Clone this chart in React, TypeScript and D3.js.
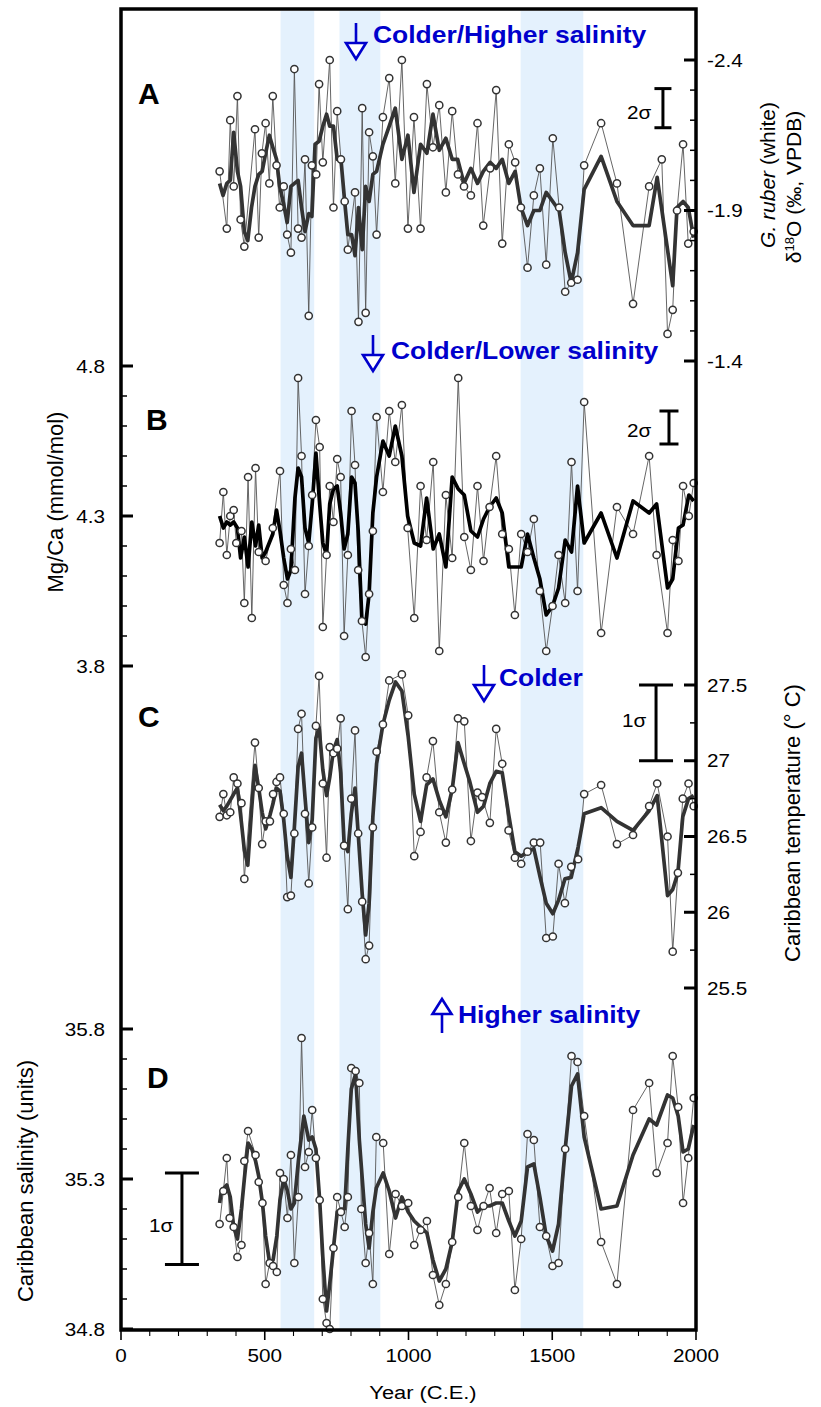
import React from 'react';
import * as d3 from 'd3';

type Pt = [number, number];

// shaded intervals (years C.E.)
const bands: Pt[] = [[555, 672], [760, 902], [1390, 1608]];

const yearMajor = [0, 500, 1000, 1500, 2000];
const yearMinor = d3.range(0, 2001, 100);

const d18OMajor = [-2.4, -1.9, -1.4];
const mgcaMajor = [4.8, 4.3, 3.8];
const tempMajor = [27.5, 27, 26.5, 26, 25.5];
const tempLabels = ['27.5', '27', '26.5', '26', '25.5'];
const salMajor = [35.8, 35.3, 34.8];

// A: G. ruber d18O
const d18O: Pt[] = [[343,-2.03],[368,-1.84],[380,-2.2],[392,-1.98],[405,-2.28],[416,-1.87],[429,-1.78],[466,-2.17],[479,-1.81],[490,-2.09],[503,-2.19],[516,-1.99],[528,-2.28],[541,-2.05],[552,-1.91],[566,-1.98],[578,-1.82],[591,-1.76],[603,-2.37],[616,-1.84],[628,-1.81],[640,-2.07],[653,-1.55],[664,-2.05],[679,-2.02],[689,-2.32],[702,-2.06],[726,-2.4],[739,-1.91],[752,-2.23],[765,-2.07],[778,-1.93],[789,-1.77],[814,-1.96],[826,-1.53],[839,-2.24],[851,-1.56],[863,-2.16],[876,-2.08],[889,-1.82],[911,-2.21],[933,-2.34],[954,-1.99],[977,-2.4],[998,-1.84],[1019,-2.21],[1042,-1.84],[1064,-2.32],[1085,-2.11],[1107,-2.25],[1130,-1.96],[1152,-2.23],[1172,-2.02],[1193,-1.98],[1217,-1.95],[1240,-2.19],[1260,-1.85],[1284,-2.04],[1305,-2.3],[1326,-1.79],[1349,-2.12],[1371,-2.06],[1391,-1.91],[1414,-1.71],[1436,-1.95],[1457,-2.04],[1479,-1.72],[1502,-2.14],[1524,-1.91],[1545,-1.63],[1566,-1.66],[1588,-1.67],[1611,-2.05],[1670,-2.19],[1725,-1.99],[1781,-1.59],[1837,-1.98],[1881,-2.07],[1901,-1.49],[1919,-1.57],[1934,-1.9],[1955,-2.12],[1973,-1.79],[1992,-1.83]];
const d18OSmooth: Pt[] = [[343,-1.99],[355,-1.95],[368,-1.99],[380,-2.0],[392,-2.16],[405,-2.03],[416,-1.98],[429,-1.83],[441,-1.8],[454,-1.91],[466,-1.98],[479,-2.02],[491,-2.03],[503,-2.09],[516,-2.15],[528,-2.11],[541,-2.07],[552,-1.98],[566,-1.92],[578,-1.86],[591,-1.98],[616,-2.0],[628,-1.91],[640,-1.83],[653,-1.89],[664,-1.88],[675,-2.12],[689,-2.13],[702,-2.18],[715,-2.22],[726,-2.18],[739,-2.18],[752,-2.07],[765,-2.07],[778,-1.93],[789,-1.82],[802,-1.82],[814,-1.75],[826,-1.91],[839,-1.77],[851,-1.98],[863,-1.93],[876,-2.02],[889,-2.03],[911,-2.12],[933,-2.18],[954,-2.24],[977,-2.07],[998,-2.15],[1019,-1.96],[1042,-2.12],[1064,-2.09],[1085,-2.22],[1107,-2.1],[1130,-2.14],[1152,-2.07],[1171,-2.07],[1193,-1.99],[1217,-2.04],[1240,-1.99],[1260,-2.03],[1284,-2.06],[1305,-2.04],[1326,-2.07],[1349,-1.99],[1371,-2.03],[1391,-1.91],[1414,-1.85],[1436,-1.9],[1457,-1.9],[1479,-1.96],[1524,-1.9],[1545,-1.76],[1566,-1.66],[1588,-1.76],[1611,-1.97],[1670,-2.08],[1725,-1.93],[1781,-1.85],[1837,-1.85],[1865,-2.01],[1919,-1.65],[1934,-1.91],[1955,-1.93],[1973,-1.91],[1992,-1.81]];

// B: Mg/Ca
const mgca: Pt[] = [[343,4.21],[356,4.38],[368,4.17],[380,4.3],[392,4.32],[401,4.21],[419,4.25],[429,4.01],[442,4.43],[455,3.96],[468,4.46],[479,4.18],[503,4.15],[528,4.26],[553,4.45],[566,4.07],[579,4.01],[591,4.19],[605,4.12],[616,4.76],[628,4.5],[640,4.04],[653,4.2],[665,4.37],[678,4.62],[691,4.53],[702,3.93],[715,4.17],[726,4.4],[739,4.28],[752,4.49],[764,4.43],[776,3.9],[789,4.17],[802,4.65],[814,4.47],[825,4.12],[838,3.95],[851,3.83],[863,4.04],[876,4.25],[889,4.63],[911,4.38],[933,4.65],[954,4.48],[977,4.67],[997,4.26],[1020,3.96],[1042,4.4],[1063,4.22],[1086,4.48],[1107,3.85],[1130,4.37],[1152,4.16],[1173,4.76],[1194,4.23],[1217,4.12],[1240,4.4],[1261,4.15],[1282,4.33],[1305,4.5],[1326,4.24],[1349,4.19],[1370,3.97],[1392,4.24],[1414,4.18],[1436,4.29],[1457,4.05],[1479,3.85],[1501,4.0],[1522,4.17],[1545,4.01],[1567,4.48],[1588,4.05],[1611,4.68],[1670,3.91],[1725,4.33],[1781,4.24],[1837,4.5],[1863,4.17],[1901,3.91],[1919,4.22],[1939,4.15],[1955,4.4],[1975,4.3],[1992,4.41]];
const mgcaSmooth: Pt[] = [[343,4.3],[356,4.26],[368,4.28],[380,4.27],[392,4.28],[405,4.26],[416,4.16],[429,4.23],[442,4.13],[455,4.28],[468,4.2],[479,4.27],[491,4.16],[503,4.18],[528,4.24],[541,4.32],[553,4.25],[566,4.16],[579,4.09],[591,4.12],[605,4.36],[616,4.46],[628,4.43],[640,4.26],[653,4.21],[665,4.34],[678,4.51],[691,4.34],[702,4.21],[715,4.17],[726,4.34],[739,4.39],[752,4.4],[764,4.31],[776,4.19],[789,4.24],[802,4.43],[814,4.41],[825,4.25],[838,3.95],[851,3.94],[863,4.04],[876,4.31],[889,4.43],[911,4.55],[933,4.5],[954,4.6],[977,4.5],[997,4.3],[1020,4.21],[1042,4.2],[1063,4.36],[1086,4.19],[1107,4.24],[1130,4.13],[1152,4.43],[1173,4.39],[1194,4.37],[1217,4.25],[1240,4.23],[1261,4.29],[1282,4.33],[1305,4.36],[1326,4.31],[1349,4.13],[1392,4.13],[1414,4.24],[1436,4.16],[1457,4.09],[1479,3.97],[1501,4.0],[1522,4.06],[1545,4.22],[1567,4.18],[1588,4.4],[1611,4.21],[1670,4.31],[1725,4.16],[1781,4.35],[1837,4.31],[1863,4.34],[1901,4.06],[1919,4.09],[1939,4.26],[1955,4.27],[1975,4.37],[1992,4.35]];

// C: Caribbean temperature
const temp: Pt[] = [[343,26.63],[356,26.78],[368,26.64],[380,26.66],[392,26.89],[405,26.85],[419,26.72],[429,26.22],[466,27.12],[479,26.82],[491,26.45],[503,26.6],[518,26.6],[529,26.78],[541,26.86],[553,26.89],[566,26.65],[578,26.1],[591,26.11],[603,26.52],[616,27.21],[628,27.31],[640,26.65],[653,26.19],[665,26.56],[678,27.23],[689,27.56],[702,26.85],[715,26.36],[726,27.09],[739,27.05],[752,27.08],[764,27.28],[776,26.44],[789,26.02],[801,26.75],[814,27.2],[825,26.52],[839,26.07],[851,25.69],[863,25.78],[876,26.56],[889,27.06],[911,27.24],[933,27.53],[977,27.57],[999,27.3],[1020,26.37],[1042,26.53],[1063,26.89],[1085,27.13],[1107,26.66],[1130,26.46],[1152,26.81],[1172,27.28],[1194,27.26],[1217,26.47],[1240,26.79],[1256,26.76],[1283,26.59],[1305,27.21],[1326,26.98],[1348,26.54],[1370,26.36],[1392,26.32],[1414,26.4],[1436,26.46],[1458,26.46],[1479,25.83],[1502,25.84],[1522,26.32],[1544,26.06],[1566,26.3],[1590,26.35],[1611,26.78],[1670,26.84],[1725,26.45],[1781,26.51],[1837,26.7],[1865,26.85],[1901,26.5],[1919,25.74],[1937,26.26],[1954,26.75],[1974,26.85],[1992,26.7]];
const tempSmooth: Pt[] = [[343,26.71],[356,26.67],[368,26.7],[392,26.78],[405,26.82],[419,26.59],[429,26.41],[441,26.31],[454,26.67],[466,26.97],[479,26.82],[491,26.66],[503,26.55],[518,26.64],[529,26.72],[541,26.82],[553,26.8],[566,26.61],[578,26.37],[591,26.23],[603,26.56],[616,26.96],[628,27.05],[640,26.76],[653,26.46],[665,26.61],[678,27.15],[689,27.22],[702,26.94],[715,26.77],[726,26.89],[739,27.07],[752,27.14],[764,26.92],[776,26.46],[789,26.4],[801,26.65],[814,26.82],[825,26.52],[839,26.12],[851,25.85],[863,26.06],[876,26.63],[889,26.98],[911,27.24],[933,27.4],[955,27.52],[977,27.46],[999,27.16],[1020,26.78],[1042,26.6],[1063,26.84],[1085,26.88],[1107,26.74],[1130,26.63],[1152,26.81],[1172,27.12],[1194,26.98],[1212,26.87],[1240,26.66],[1261,26.7],[1283,26.85],[1305,26.93],[1326,26.92],[1348,26.65],[1370,26.4],[1392,26.37],[1414,26.4],[1436,26.42],[1458,26.23],[1479,26.06],[1502,25.99],[1522,26.08],[1544,26.22],[1566,26.23],[1590,26.43],[1611,26.65],[1670,26.69],[1725,26.6],[1781,26.54],[1837,26.67],[1865,26.77],[1901,26.11],[1919,26.15],[1937,26.26],[1954,26.63],[1974,26.75],[1992,26.77]];

// D: Caribbean salinity
const sal: Pt[] = [[343,35.15],[356,35.26],[368,35.37],[378,35.17],[392,35.14],[405,35.04],[419,35.08],[429,35.36],[442,35.46],[468,35.38],[479,35.29],[492,35.22],[503,34.95],[517,35.02],[529,35.01],[542,34.99],[553,35.32],[566,35.3],[579,35.17],[591,35.38],[603,35.02],[617,35.24],[628,35.77],[640,35.34],[653,35.39],[665,35.53],[678,35.37],[691,35.23],[702,34.9],[715,34.82],[726,34.8],[739,35.07],[752,35.24],[765,35.19],[778,35.14],[789,35.24],[801,35.67],[816,35.66],[829,35.62],[836,35.2],[851,35.02],[863,35.12],[876,34.95],[888,35.44],[912,35.42],[933,35.05],[955,35.25],[977,35.21],[999,35.22],[1020,35.08],[1042,35.13],[1064,35.16],[1085,34.98],[1107,34.88],[1130,34.95],[1152,35.09],[1173,35.24],[1194,35.42],[1217,35.21],[1240,35.13],[1261,35.21],[1282,35.27],[1305,35.12],[1326,35.25],[1349,35.26],[1370,34.93],[1392,35.1],[1414,35.45],[1436,35.43],[1457,35.14],[1479,35.11],[1501,35.01],[1522,35.02],[1545,35.4],[1567,35.71],[1588,35.69],[1611,35.51],[1670,35.09],[1725,34.95],[1781,35.53],[1837,35.62],[1863,35.32],[1901,35.42],[1919,35.71],[1938,35.54],[1955,35.22],[1973,35.37],[1992,35.57]];
const salSmooth: Pt[] = [[343,35.22],[349,35.26],[368,35.28],[380,35.24],[392,35.14],[405,35.1],[419,35.2],[429,35.3],[442,35.42],[455,35.4],[468,35.36],[479,35.31],[492,35.22],[503,35.11],[517,35.02],[529,35.03],[542,35.11],[553,35.23],[566,35.3],[579,35.26],[591,35.2],[603,35.22],[617,35.36],[636,35.51],[653,35.43],[665,35.44],[678,35.4],[691,35.23],[702,35.04],[715,34.86],[726,34.95],[739,35.07],[752,35.19],[765,35.2],[778,35.2],[789,35.4],[801,35.6],[816,35.65],[829,35.43],[851,35.15],[863,35.07],[876,35.19],[888,35.27],[912,35.32],[933,35.26],[955,35.17],[977,35.24],[999,35.19],[1020,35.16],[1042,35.14],[1064,35.12],[1085,35.03],[1107,34.96],[1130,35.0],[1152,35.09],[1173,35.26],[1194,35.3],[1217,35.25],[1240,35.19],[1261,35.21],[1282,35.21],[1305,35.22],[1326,35.22],[1349,35.16],[1370,35.11],[1392,35.16],[1414,35.34],[1436,35.35],[1457,35.24],[1479,35.11],[1501,35.06],[1522,35.15],[1545,35.4],[1567,35.61],[1588,35.65],[1611,35.44],[1670,35.2],[1725,35.21],[1781,35.38],[1837,35.5],[1863,35.48],[1901,35.58],[1919,35.57],[1938,35.51],[1955,35.39],[1973,35.4],[1992,35.48]];

const FONT = "'Liberation Sans', Arial, Helvetica, sans-serif";
const BLUE = '#0000cc';
const SX = 1.15; // horizontal stretch of the original figure text

const L = 121;
const R = 696;
const TOP = 9;
const BOT = 1330;

const x = d3.scaleLinear().domain([0, 2000]).range([L, R]);
const yA = d3.scaleLinear().domain([-2.4, -1.4]).range([60, 361]);
const yB = d3.scaleLinear().domain([4.8, 3.8]).range([366, 666]);
const yC = d3.scaleLinear().domain([27.5, 25.5]).range([685, 988]);
const yD = d3.scaleLinear().domain([35.8, 34.8]).range([1029, 1329]);

const SText = ({ x: tx, y: ty, size, anchor = 'start', bold = false, fill = '#000', children }: any) => (
  <text
    transform={`translate(${tx},${ty}) scale(${SX},1)`}
    fontSize={size}
    fontFamily={FONT}
    fontWeight={bold ? 'bold' : 'normal'}
    textAnchor={anchor}
    fill={fill}
  >
    {children}
  </text>
);

const Series = ({ pts, smooth, y, smoothColor }: { pts: Pt[]; smooth: Pt[]; y: any; smoothColor: string }) => {
  const line = d3.line<Pt>().x((d) => x(d[0])).y((d) => y(d[1]));
  return (
    <g>
      <path d={line(pts) || ''} fill="none" stroke="#555" strokeWidth={0.9} />
      <path d={line(smooth) || ''} fill="none" stroke={smoothColor} strokeWidth={3.7} strokeLinejoin="round" />
      {pts.map((d, i) => (
        <circle key={i} cx={x(d[0])} cy={y(d[1])} r={3.6} fill="#fff" stroke="#333" strokeWidth={1.5} />
      ))}
    </g>
  );
};

const Ticks = ({ y, major, step, side, labels }: any) => {
  const [a, b] = d3.extent(major) as [number, number];
  const minor = d3.range(Math.round((b - a) / step) + 1).map((i) => a + i * step);
  const x0 = side === 'right' ? R : L;
  const dir = side === 'right' ? -1 : 1;
  return (
    <g>
      {minor.map((v, i) => (
        <line key={'m' + i} x1={x0} x2={x0 + dir * 6} y1={y(v)} y2={y(v)} stroke="#000" strokeWidth={1.5} />
      ))}
      {major.map((v: number, i: number) => (
        <g key={i}>
          <line x1={x0} x2={x0 + dir * 12} y1={y(v)} y2={y(v)} stroke="#000" strokeWidth={3} />
          <SText x={side === 'right' ? 707 : 105} y={y(v) + 6.5} size={18} anchor={side === 'right' ? 'start' : 'end'}>
            {labels ? labels[i] : v.toFixed(1)}
          </SText>
        </g>
      ))}
    </g>
  );
};

const ErrBar = ({ cx, y1, y2, w }: any) => (
  <g stroke="#000" strokeWidth={3}>
    <line x1={cx} x2={cx} y1={y1} y2={y2} />
    <line x1={cx - w / 2} x2={cx + w / 2} y1={y1} y2={y1} />
    <line x1={cx - w / 2} x2={cx + w / 2} y1={y2} y2={y2} />
  </g>
);

const Arrow = ({ ax, y0, up = false }: any) => {
  // down arrow: shaft then open head below; up arrow: open head on top
  if (!up) {
    return (
      <g stroke={BLUE} strokeWidth={2.6} fill="#fff">
        <line x1={ax} x2={ax} y1={y0} y2={y0 + 20} />
        <path d={`M${ax - 10},${y0 + 20}L${ax + 10},${y0 + 20}L${ax},${y0 + 36}Z`} />
      </g>
    );
  }
  return (
    <g stroke={BLUE} strokeWidth={2.6} fill="#fff">
      <path d={`M${ax},${y0}L${ax + 9.5},${y0 + 15}L${ax - 9.5},${y0 + 15}Z`} />
      <line x1={ax} x2={ax} y1={y0 + 15} y2={y0 + 34} />
    </g>
  );
};

const RotText = ({ cx, cy, size = 22, children }: any) => (
  <text
    transform={`translate(${cx},${cy}) rotate(-90)`}
    fontSize={size}
    fontFamily={FONT}
    textAnchor="middle"
    dy="0.35em"
  >
    {children}
  </text>
);

export default function App() {
  return (
    <svg width={821} height={1407} style={{ position: 'absolute', left: 0, top: 0, background: '#fff' }}>
      {bands.map((b, i) => (
        <rect key={i} x={x(b[0])} y={TOP + 2} width={x(b[1]) - x(b[0])} height={BOT - TOP - 3} fill="#e4f1fd" />
      ))}

      <Series pts={d18O} smooth={d18OSmooth} y={yA} smoothColor="#333" />
      <Series pts={mgca} smooth={mgcaSmooth} y={yB} smoothColor="#000" />
      <Series pts={temp} smooth={tempSmooth} y={yC} smoothColor="#333" />
      <Series pts={sal} smooth={salSmooth} y={yD} smoothColor="#333" />

      {/* frame */}
      <rect x={L} y={TOP} width={R - L} height={BOT - TOP} fill="none" stroke="#000" strokeWidth={3.5} />

      {/* axes */}
      <Ticks y={yA} major={d18OMajor} step={0.1} side="right" />
      <Ticks y={yB} major={mgcaMajor} step={0.1} side="left" />
      <Ticks y={yC} major={tempMajor} step={0.25} side="right" labels={tempLabels} />
      <Ticks y={yD} major={salMajor} step={0.1} side="left" />

      {yearMinor.map((v) => (
        <line key={v} x1={x(v)} x2={x(v)} y1={BOT} y2={BOT + (v % 500 === 0 ? 10 : 6)} stroke="#000" strokeWidth={v % 500 === 0 ? 1.6 : 1.1} />
      ))}
      {yearMajor.map((v) => (
        <SText key={v} x={x(v)} y={1362} size={18} anchor="middle">{v}</SText>
      ))}
      <SText x={423} y={1399} size={19} anchor="middle">Year (C.E.)</SText>

      {/* axis titles */}
      <RotText cx={768} cy={175} size={21}>
        <tspan fontStyle="italic">G. ruber</tspan> (white)
      </RotText>
      <RotText cx={794} cy={187} size={21}>
        δ<tspan dy={-7} fontSize={13}>18</tspan><tspan dy={7}>O</tspan><tspan dx={6}>(‰, VPDB)</tspan>
      </RotText>
      <RotText cx={55} cy={502}>Mg/Ca (mmol/mol)</RotText>
      <RotText cx={792} cy={823}>Caribbean temperature (° C)</RotText>
      <RotText cx={25} cy={1181}>Caribbean salinity (units)</RotText>

      {/* panel letters */}
      {[
        ['A', 138, 104],
        ['B', 146, 430],
        ['C', 138, 727],
        ['D', 147, 1088],
      ].map(([t, px, py]) => (
        <text key={t as string} x={px as number} y={py as number} fontSize={30} fontWeight="bold" fontFamily={FONT}>
          {t}
        </text>
      ))}

      {/* error bars */}
      <ErrBar cx={x(1885)} y1={yA(-2.305)} y2={yA(-2.175)} w={17} />
      <SText x={627} y={119} size={18}>2σ</SText>
      <ErrBar cx={x(1906)} y1={yB(4.65)} y2={yB(4.54)} w={19} />
      <SText x={627} y={437} size={18}>2σ</SText>
      <ErrBar cx={x(1861)} y1={yC(27.5)} y2={yC(27.0)} w={34} />
      <SText x={622} y={727} size={18}>1σ</SText>
      <ErrBar cx={x(212)} y1={yD(35.32)} y2={yD(35.015)} w={34} />
      <SText x={149} y={1232} size={18}>1σ</SText>

      {/* annotations */}
      <Arrow ax={356} y0={23} />
      <SText x={373} y={43} size={23} bold fill={BLUE}>Colder/Higher salinity</SText>
      <Arrow ax={373} y0={335} />
      <SText x={391} y={359} size={23} bold fill={BLUE}>Colder/Lower salinity</SText>
      <Arrow ax={484} y0={665} />
      <SText x={499} y={686} size={23} bold fill={BLUE}>Colder</SText>
      <Arrow ax={442} y0={999} up />
      <SText x={458} y={1023} size={23} bold fill={BLUE}>Higher salinity</SText>
    </svg>
  );
}
